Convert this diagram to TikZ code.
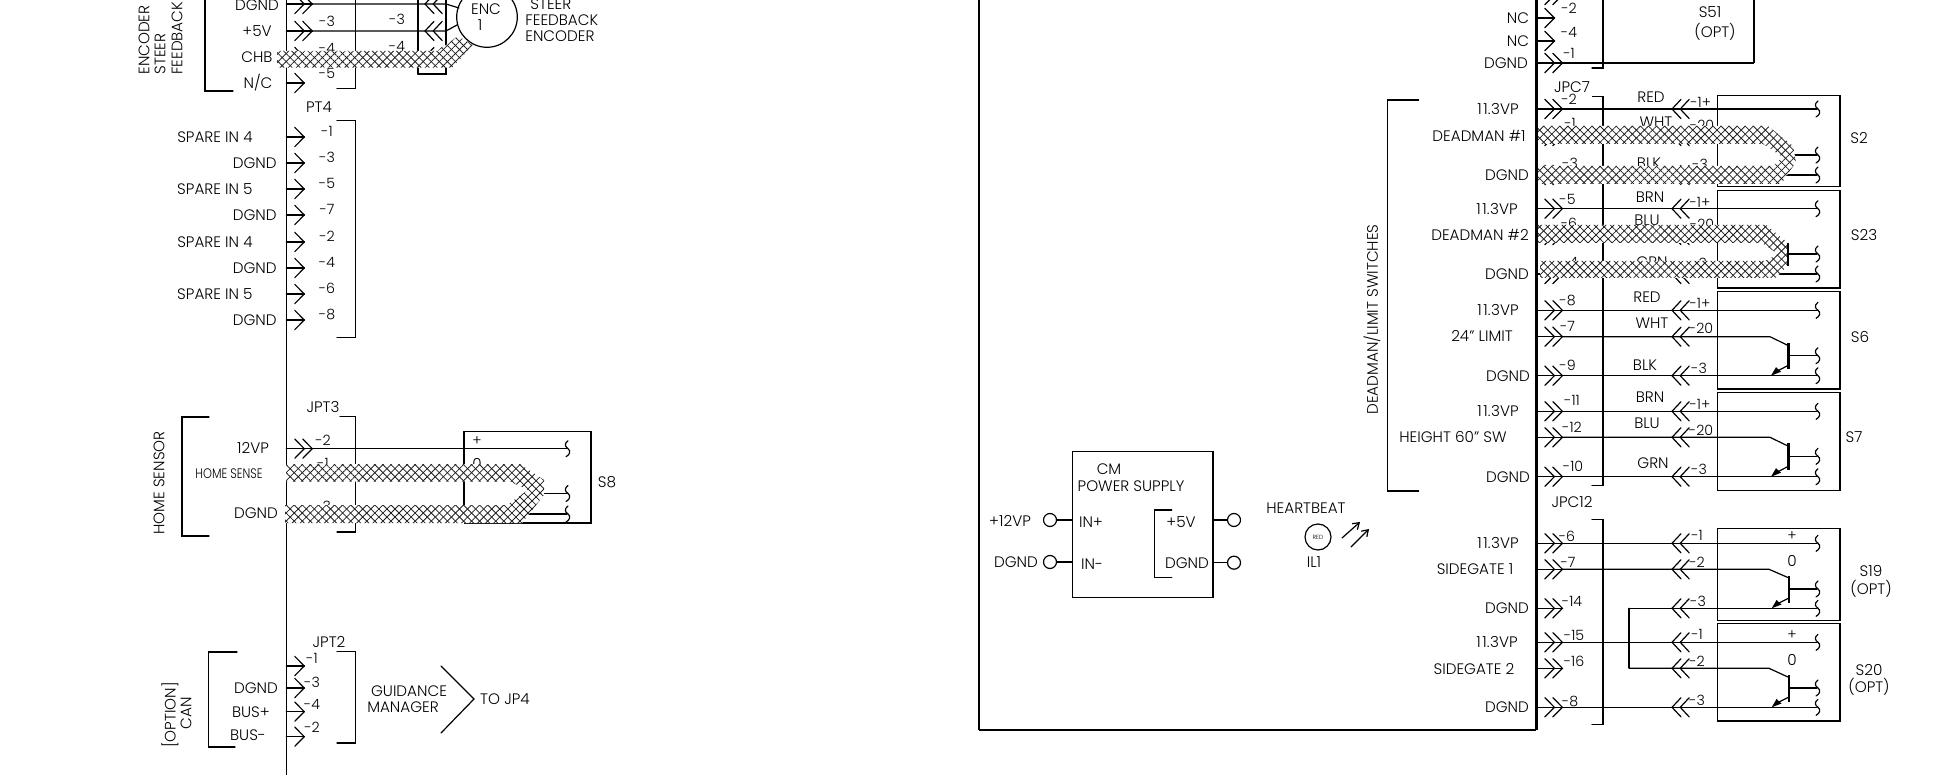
\documentclass[tikz,border=0pt]{standalone}
\usepackage{fontspec}
\setmainfont{Poppins Light}
\usetikzlibrary{patterns.meta,arrows.meta}
\newcount\lblc
\newcommand\elev{1\kern0.8pt 1.\kern0.3pt 3VP}
\tikzset{
  wire/.style={line width=0.6pt,black,line cap=round,line join=miter},
  heavy/.style={line width=1.1pt,black},
  lab/.style={inner sep=0pt,font=\fontsize{7.6}{9}\selectfont},
  pin/.style={inner sep=0pt,font=\fontsize{7.1}{8}\selectfont},
  tiny lab/.style={inner sep=0pt,font=\fontsize{6.9}{8}\selectfont},
  micro/.style={inner sep=0pt,font=\fontsize{3}{4}\selectfont},
  hatchA/.style={pattern={Lines[angle=45,distance=2.85pt,line width=0.4pt]},pattern color=black!88},
  hatchB/.style={pattern={Lines[angle=-45,distance=2.85pt,line width=0.4pt]},pattern color=black!88},
}
\newcommand\lbl[4][lab]{\global\advance\lblc by 1 \node[#1] (t\the\lblc) at (#2,#3) {#4};}
\newcommand\rotl[4][lab]{\global\advance\lblc by 1 \node[#1,rotate=90,anchor=west] (t\the\lblc) at (#2,#3) {#4};}
\newcommand\chevR[2]{\draw[wire] ({#1-9.5},{#2-9.6}) -- (#1,#2) -- ({#1-9.5},{#2+9.6});}
\newcommand\chevL[2]{\draw[wire] ({#1+9},{#2-9.6}) -- (#1,#2) -- ({#1+9},{#2+9.6});}
\newcommand\pinS[2]{\draw[wire] (#1,#2) -- ({#1+18},#2); \chevR{#1+18}{#2}}
\newcommand\pinD[2]{\draw[wire] (#1,#2) -- ({#1+26},#2); \chevR{#1+18}{#2}\chevR{#1+26}{#2}}
\newcommand\lchev[2]{\chevL{#1}{#2}\chevL{#1+8.2}{#2}}
\newcommand\sq[2]{\draw[wire] ({#1+1},{#2-8}) .. controls ({#1-3},{#2-5}) and ({#1-2},{#2-2}) .. ({#1+1},#2) .. controls ({#1+4},{#2+2}) and ({#1+3},{#2+6}) .. ({#1-1},{#2+8});}
\newcommand\wrun[3]{\draw[wire] (#1,#3) -- (#2,#3);}
% right-hand full row: pin, wire to the squiggle, left chevrons
\newcommand\swrow[1]{\pinD{1536.4}{#1}\wrun{1562}{1817}{#1}\lchev{1672}{#1}\sq{1817}{#1}}
% transistor: y of collector wire, y of emitter wire
\newcommand\trans[2]{\draw[wire] (1562,#1) -- (1770,#1) -- (1788.5,{#1+9});
  \draw[heavy] (1788.5,{#1+6}) -- (1788.5,{#1+32.5});
  \draw[wire] (1788.5,{#1+19}) -- (1817,{#1+19}); \sq{1817}{#1+19}
  \draw[wire] (1562,#2) -- (1817,#2); \sq{1817}{#2}
  \draw[wire] (1788.5,{#2-10.5}) -- (1778,{#2-5});
  \fill (1771,#2) -- (1776,{#2-8.5}) -- (1781,{#2-4}) -- cycle;
  \lchev{1672}{#1}\lchev{1672}{#2}}
\newcommand\swbox[2]{\draw[wire] (1717.5,#1) rectangle (1840,#2); \draw[heavy] (1840,#1) -- (1840,#2);}
\newcommand\cable[1]{\fill[white] #1; \fill[hatchA] #1; \fill[hatchB] #1;}
\begin{document}
\begin{tikzpicture}[x=0.5pt,y=-0.5pt]
\useasboundingbox (0,0) rectangle (1954,775);
\clip (0,0) rectangle (1954,775);
% ================= LEFT PART =================
\draw[wire] (286.3,0) -- (286.3,775);
% encoder bracket
\draw[wire] (205,0) -- (205,91) -- (233,91);
\rotl{144}{75}{ENCODER}
\rotl{160}{75}{STEER}
\rotl{177}{75}{FEEDBACK}
\lbl{257}{5}{DGND}
\lbl{257}{31}{+5V}
\lbl{257}{57}{CHB}
\lbl{258}{83}{N/C}
\pinD{286.3}{4}\pinD{286.3}{31}\pinS{286.3}{57}\pinS{286.3}{83}
\draw[wire] (312,4) -- (446,4) -- (459,8);
\draw[wire] (312,31) -- (446,31) -- (457,25);
\lbl[pin]{327}{21}{-3}\lbl[pin]{327}{48}{-4}\lbl[pin]{327}{73}{-5}
\lbl[pin]{397}{19}{-3}\lbl[pin]{397}{46}{-4}
\draw[wire] (355.3,0) -- (355.3,88.3) -- (337,88.3);
\draw[heavy] (417.7,0) -- (417.7,74);
\draw[wire] (417.7,74) -- (446,74) -- (446,0);
\lchev{425}{4}\lchev{425}{31}\lchev{425}{57}
\draw[wire] (487,17) circle[radius=30.3];
\lbl{486}{9}{ENC}
\lbl{480}{25}{1}
\node[lab,anchor=west] (steer1) at (530,4) {STEER};
\node[lab,anchor=west] (steer2) at (525,20) {FEEDBACK};
\node[lab,anchor=west] (steer3) at (525,36) {ENCODER};
\cable{(277,51) -- (438,51) -- (458,36) -- (473,45) -- (452,67.7) -- (277,67.7) -- cycle}
% PT4
\lbl{319}{107}{PT4}
\draw[wire] (337,120.3) -- (355.3,120.3) -- (355.3,337.3) -- (337,337.3);
\foreach \y/\n in {137/-1,163/-3,189/-5,215/-7,242/-2,268/-4,294/-6,320/-8}{
  \pinS{286.3}{\y}
  \lbl[pin]{327}{\y-6}{\n}
}
\foreach \y/\t in {137/SPARE IN 4,189/SPARE IN 5,242/SPARE IN 4,294/SPARE IN 5}{
  \node[lab,anchor=east] at (253,\y) {\t};
}
\foreach \y in {163,215,268,320}{ \node[lab,anchor=east] at (277,\y) {DGND}; }
% JPT3
\lbl{323}{407}{JPT3}
\draw[wire] (340,416.7) -- (355.3,416.7) -- (355.3,532) -- (337,532);
\draw[wire] (209,417) -- (182,417) -- (182,536) -- (209,536);
\rotl{159}{535}{HOME SENSOR}
\lbl{253}{448}{12VP}
\lbl[tiny lab]{229}{474}{\scalebox{0.82}[1]{HOME SENSE}}
\lbl{256}{513}{DGND}
\pinD{286.3}{448.7}
\lbl[pin]{323}{440}{-2}\lbl[pin]{323}{463}{-1}\lbl[pin]{323}{506}{-3}
\draw[wire] (312,448.7) -- (567,448.7); \sq{567}{448.7}
\draw[wire] (463.7,431.3) -- (591,431.3);
\draw[heavy] (463.7,431.3) -- (463.7,505);
\draw[heavy] (591,431.3) -- (591,523.3) -- (463.7,523.3);
\lbl[pin]{477}{441}{+}
\lbl[lab]{477}{464}{0}
\draw[wire] (543,493.5) -- (567,493.5); \sq{567}{493.5}
\draw[wire] (528,514) -- (567,514); \sq{567}{514}
\lbl{607}{482}{S8}
\cable{(286,464) -- (520,464) -- (544,480) -- (544,495) -- (522,523) -- (285,523) -- (285,505) -- (507,505) -- (528,490) -- (510,481.5) -- (286,481.5) -- cycle}
% JPT2
\lbl{329}{642}{JPT2}
\draw[wire] (337,651.7) -- (355.3,651.7) -- (355.3,743) -- (337,743);
\draw[wire] (237,652) -- (208.7,652) -- (208.7,747) -- (235,747);
\foreach \y in {666,688,711.7,736.7}{ \pinS{286.3}{\y} }
\lbl[pin]{312}{658}{-1}\lbl[pin]{312}{682}{-3}\lbl[pin]{312}{704}{-4}\lbl[pin]{312}{727}{-2}
\lbl{256}{688}{DGND}
\lbl{251}{712}{BUS+}
\lbl{248}{735}{BUS-}
\rotl{170}{748}{[OPTION]}
\rotl{186}{730}{CAN}
\lbl{409}{691}{GUIDANCE}
\lbl{403}{707}{MANAGER}
\draw[wire] (441,666) -- (474,699) -- (441,733);
\lbl{505}{699}{TO JP4}
% ================= RIGHT PART =================
\draw[heavy] (979,0) -- (979,730);
\draw[line width=0.8pt] (979,730) -- (1536.4,730);
\draw[heavy] (1536.4,0) -- (1536.4,730);
% CM power supply
\draw[wire] (1072.3,451.3) rectangle (1213.3,597.3);
\draw[heavy] (1213.3,451.3) -- (1213.3,597.3);
\lbl{1109}{469}{CM}
\lbl{1131}{486}{POWER SUPPLY}
\lbl{1091}{522}{IN+}
\lbl{1092}{564}{IN-}
\lbl{1010}{521}{+12VP}
\lbl{1016}{562}{DGND}
\lbl{1181}{522}{+5V}
\lbl{1187}{563}{DGND}
\draw[wire] (1171.7,510) -- (1154.3,510) -- (1154.3,577.3) -- (1171.7,577.3);
\foreach \x/\y/\xa/\xb in {1050/520/1056.5/1072.3,1050/562/1056.5/1072.3,1234/520/1213.3/1227.5,1234/562.7/1213.3/1227.5}{
  \draw[wire] (\x,\y) circle[radius=6.5];
  \draw[wire] (\xa,\y) -- (\xb,\y);
}
\lbl{1306}{508}{HEARTBEAT}
\draw[wire] (1318,537) circle[radius=13];
\lbl[micro]{1318}{537}{RED}
\lbl{1314}{562}{IL1}
\draw[wire,-{Straight Barb[length=3pt,width=4pt]}] (1342,538) -- (1360,522);
\draw[wire,-{Straight Barb[length=3pt,width=4pt]}] (1351,547) -- (1369,529);
% deadman bracket
\draw[wire] (1418.6,100) -- (1387.5,100) -- (1387.5,491) -- (1418.6,491);
\rotl{1372}{415}{DEADMAN/LIMIT SWITCHES}
% S51
\pinD{1536.4}{-5}
\pinS{1536.4}{18}\pinS{1536.4}{41}\pinD{1536.4}{63}
\lbl{1518}{18}{NC}\lbl{1518}{41}{NC}\lbl{1506}{63}{DGND}
\lbl[pin]{1569}{8}{-2}\lbl[pin]{1569}{32}{-4}\lbl[pin]{1569}{53}{-1}
\draw[wire] (1603,0) -- (1603,68) -- (1592,68);
\draw[wire] (1562,63) -- (1753.6,63);
\draw[heavy] (1753.6,0) -- (1753.6,63);
\lbl{1710}{12}{S51}\lbl{1715}{32}{(OPT)}
% JPC7 bracket
\lbl{1572}{87}{JPC7}
\draw[wire] (1592.5,96.7) -- (1603,96.7) -- (1603,485.7) -- (1592,485.7);
% S2, S23, S6, S7 boxes
\swbox{95.3}{186.7}\swbox{190.3}{288}\swbox{291.3}{389}\swbox{392.3}{490.3}
\swrow{109}\swrow{208.7}\swrow{310.3}\swrow{411.3}
\pinD{1536.4}{136}\pinD{1536.4}{175}\pinD{1536.4}{235}\pinD{1536.4}{274}
\lchev{1672}{136}\lchev{1672}{175}\lchev{1672}{235}\lchev{1672}{274}
\pinD{1536.4}{336.7}\pinD{1536.4}{375.7}\pinD{1536.4}{437.3}\pinD{1536.4}{476.7}
\trans{336.7}{375.7}\trans{437.3}{476.7}
% wire colours and pins
\lbl{1651}{97}{RED}\lbl{1656}{122}{WHT}\lbl{1649}{163}{BLK}
\lbl{1650}{197}{BRN}\lbl{1647}{220}{BLU}\lbl{1652}{262}{GRN}
\lbl{1647}{297}{RED}\lbl{1652}{323}{WHT}\lbl{1645}{365}{BLK}
\lbl{1650}{397}{BRN}\lbl{1647}{423}{BLU}\lbl{1653}{463}{GRN}
\lbl[pin]{1569}{99}{-2}\lbl[pin]{1570}{123}{-1}\lbl[pin]{1570}{163}{-3}
\lbl[pin]{1567.5}{199}{-5}\lbl[pin]{1569}{223}{-6}\lbl[pin]{1570}{262}{-4}
\lbl[pin]{1567.5}{300}{-8}\lbl[pin]{1567.5}{326}{-7}\lbl[pin]{1567.5}{365}{-9}
\lbl[pin]{1572}{400}{-11}\lbl[pin]{1572}{427}{-12}\lbl[pin]{1573}{466}{-10}
\lbl[pin]{1700.7}{102}{-1+}\lbl[pin]{1702}{125}{-20}\lbl[pin]{1700}{164}{-3}
\lbl[pin]{1700}{202}{-1+}\lbl[pin]{1702}{224}{-20}\lbl[pin]{1699}{263}{-3}
\lbl[pin]{1700}{303}{-1+}\lbl[pin]{1701}{328}{-20}\lbl[pin]{1699}{368}{-3}
\lbl[pin]{1700}{404}{-1+}\lbl[pin]{1701}{430}{-20}\lbl[pin]{1699}{469}{-3}
% left names
\lbl{1498}{109}{\elev}\lbl{1479}{136}{DEADMAN \#1}\lbl{1507}{175}{DGND}
\lbl{1497}{209}{\elev}\lbl{1480}{235}{DEADMAN \#2}\lbl{1507}{274}{DGND}
\lbl{1498}{310}{\elev}\lbl{1482}{336}{24" LIMIT}\lbl{1508}{376}{DGND}
\lbl{1498}{411}{\elev}\lbl{1453}{437}{HEIGHT 60" SW}\lbl{1508}{477}{DGND}
\lbl{1859}{138}{S2}\lbl{1864}{235}{S23}\lbl{1860}{337}{S6}\lbl{1854}{437}{S7}
% S2 cable wires
\wrun{1792}{1817}{155}\sq{1817}{155}
\wrun{1783}{1817}{175}\sq{1817}{175}
\wrun{1788}{1817}{254}\sq{1817}{254}
\wrun{1776}{1817}{274}\sq{1817}{274}
\cable{(1538,126) -- (1768,126) -- (1793,146) -- (1796,162) -- (1781,184) -- (1538,184) -- (1538,166) -- (1773,166) -- (1783,157) -- (1763,144) -- (1538,144) -- cycle}
\cable{(1538,225) -- (1766,225) -- (1788,243) -- (1788,266) -- (1775,278) -- (1540,278) -- (1540,261) -- (1765,261) -- (1778,254) -- (1762,243) -- (1538,243) -- cycle}
\draw[heavy] (1788,243) -- (1788,266);
% JPC12
\lbl{1572}{502}{JPC12}
\draw[wire] (1592,519.3) -- (1603,519.3) -- (1603,724.3) -- (1592,724.3);
\swbox{528.3}{620.3}\swbox{623.3}{721}
\foreach \y in {543.3,569.3,608.3,642.3,668.3,707.3}{ \pinD{1536.4}{\y} }
\wrun{1562}{1817}{543.3}\sq{1817}{543.3}\lchev{1672}{543.3}
\wrun{1562}{1817}{642.3}\sq{1817}{642.3}\lchev{1672}{642.3}
% S19
\draw[wire] (1562,569.3) -- (1769,569.3) -- (1789,578);
\draw[heavy] (1789,576) -- (1789,602.7);
\draw[wire] (1789,589) -- (1817,589); \sq{1817}{589}
\draw[wire] (1629,608.3) -- (1817,608.3); \sq{1817}{608.3}
\draw[wire] (1789,598) -- (1778,603.5);
\fill (1771.7,608.3) -- (1776.5,600) -- (1781.5,604.5) -- cycle;
% S20
\draw[wire] (1629,668.3) -- (1769,668.3) -- (1789,677.5);
\draw[heavy] (1789,675) -- (1789,701.7);
\draw[wire] (1789,688) -- (1817,688); \sq{1817}{688}
\draw[wire] (1562,707.3) -- (1817,707.3); \sq{1817}{707.3}
\draw[wire] (1789,697) -- (1778,702.5);
\fill (1771.7,707.3) -- (1776.5,699) -- (1781.5,703.5) -- cycle;
\lchev{1672}{569.3}\lchev{1672}{608.3}\lchev{1672}{668.3}\lchev{1672}{707.3}
% cross link
\draw[wire] (1629,608.3) -- (1629,649);
\draw[heavy] (1629,649) -- (1629,668.3);
\lbl{1498}{543}{\elev}\lbl{1475}{569}{SIDEGATE 1}\lbl{1507}{608}{DGND}
\lbl{1497}{642}{\elev}\lbl{1474}{669}{SIDEGATE 2}\lbl{1507}{707}{DGND}
\lbl[pin]{1567}{536}{-6}\lbl[pin]{1568}{562}{-7}\lbl[pin]{1572}{601}{-14}
\lbl[pin]{1574}{635}{-15}\lbl[pin]{1574}{661}{-16}\lbl[pin]{1570}{701}{-8}
\lbl[pin]{1697}{535}{-1}\lbl[pin]{1697}{562}{-2}\lbl[pin]{1698}{601}{-3}
\lbl[pin]{1697}{634}{-1}\lbl[pin]{1697}{661}{-2}\lbl[pin]{1697}{700}{-3}
\lbl[pin]{1792}{536}{+}\lbl{1792}{561}{0}\lbl[pin]{1792}{635}{+}\lbl{1792}{660}{0}
\lbl{1871}{571}{S19}\lbl{1871}{589}{(OPT)}
\lbl{1869}{670}{S20}\lbl{1869}{687}{(OPT)}
\end{tikzpicture}
\end{document}
